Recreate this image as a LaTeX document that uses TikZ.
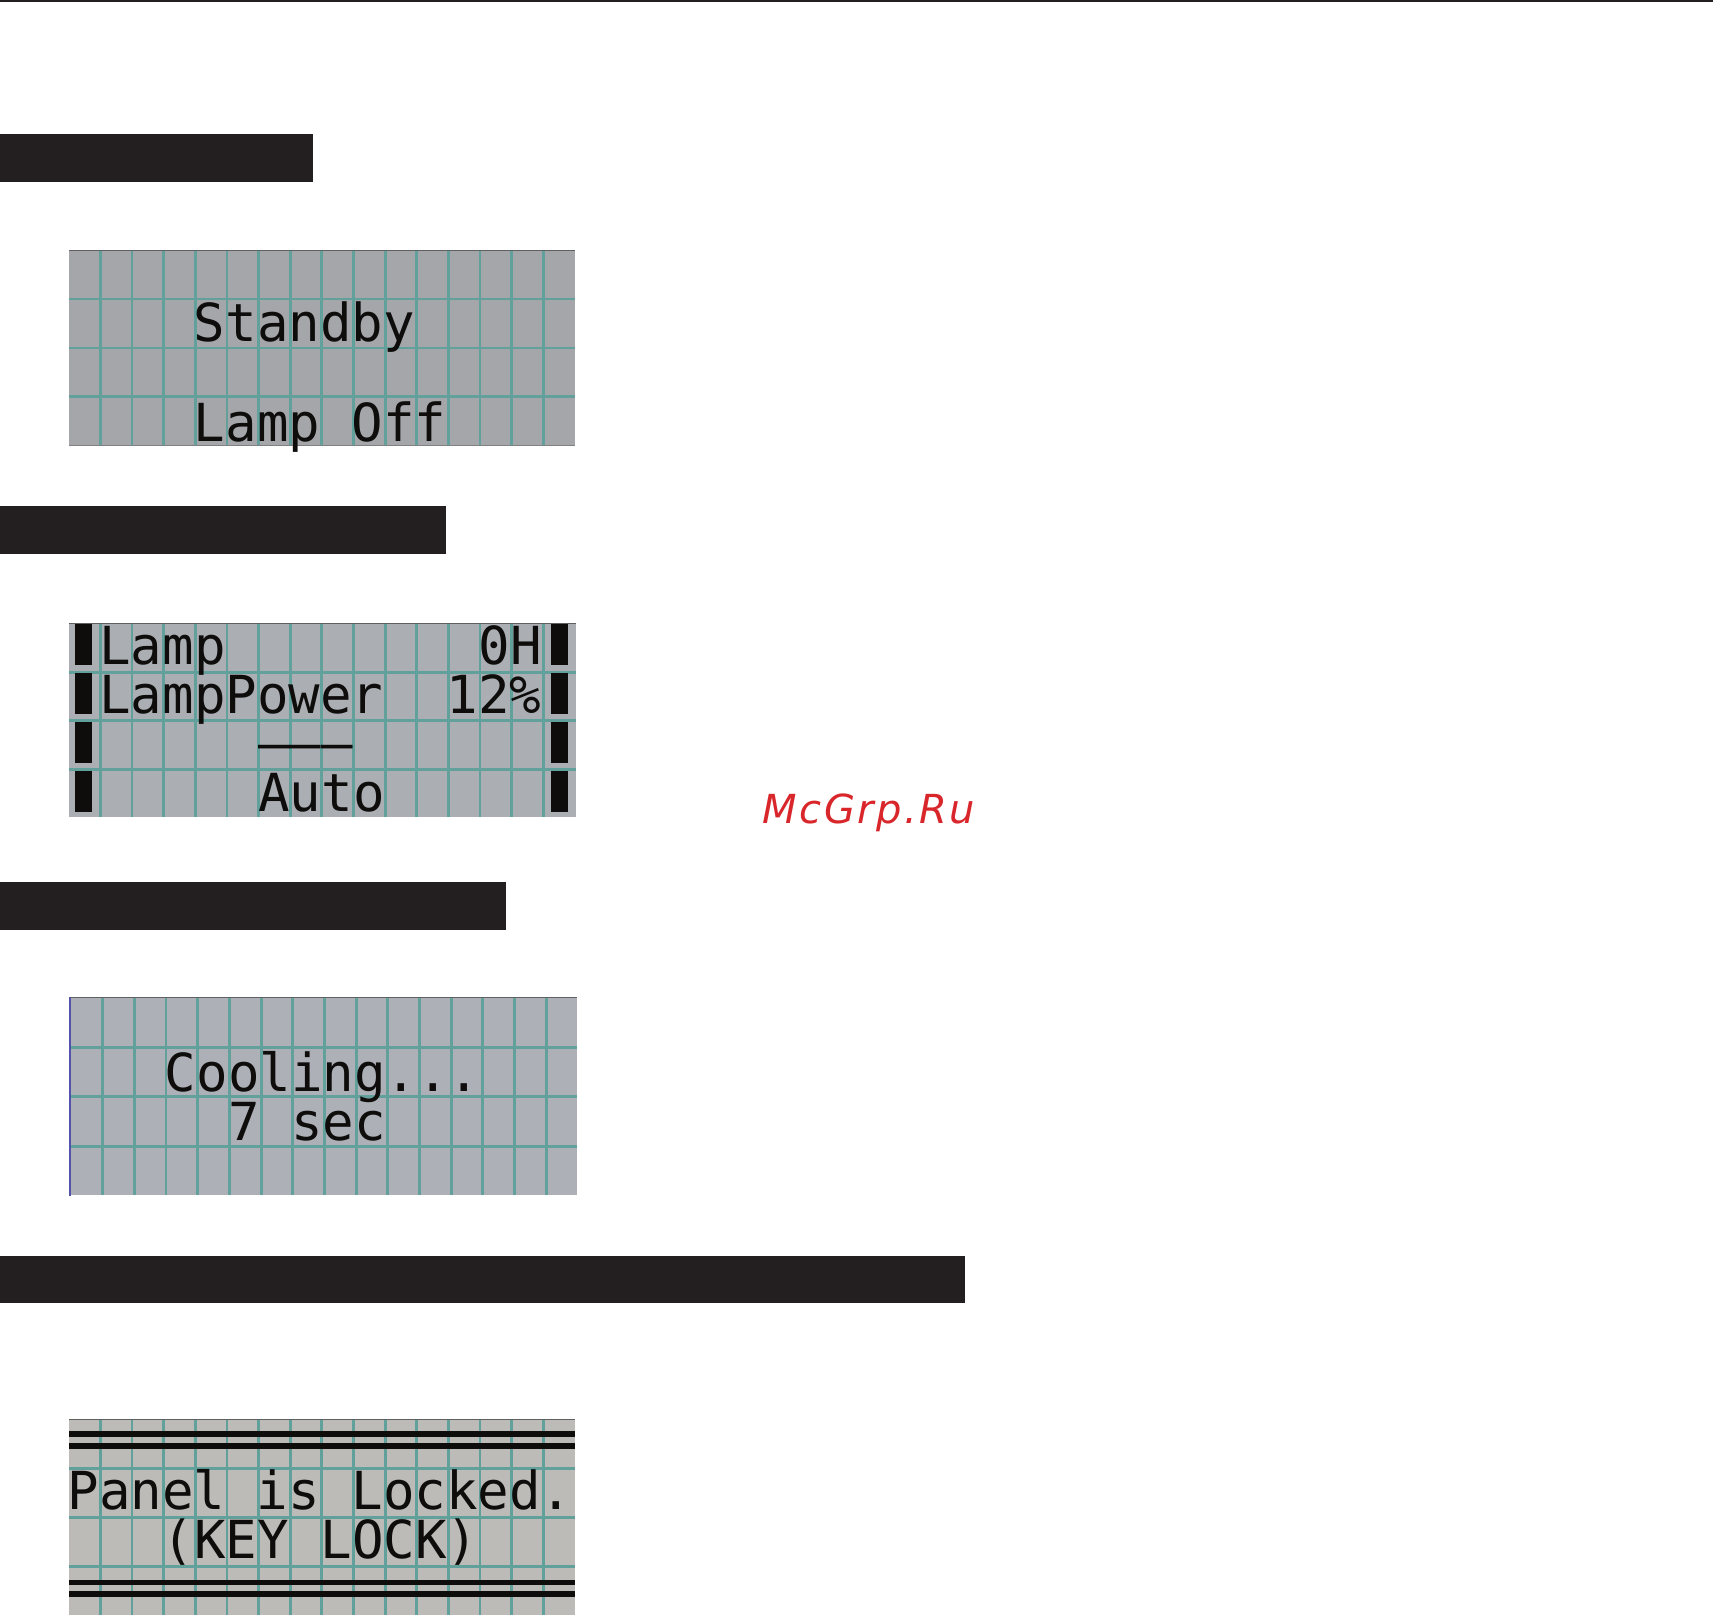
\documentclass[tikz,border=0pt]{standalone}
\usepackage{fontspec}
\newfontfamily\lcdfont{DejaVu Sans Mono}
\newfontfamily\markfont[LetterSpace=6]{DejaVu Sans}
\definecolor{barc}{HTML}{231F20}
\definecolor{gridc}{HTML}{62A09C}
\definecolor{lcdA}{HTML}{A5A6AA}
\definecolor{lcdB}{HTML}{ABAFB3}
\definecolor{lcdC}{HTML}{ADB1B7}
\definecolor{lcdD}{HTML}{BCBBB8}
\definecolor{inkc}{HTML}{0E0D0C}
\definecolor{markc}{HTML}{D9262B}
\tikzset{
  x=1.0925pt,y=-1.0925pt,
  headbar/.style={fill=barc,draw=none},
  gridline/.style={draw=gridc,line width=2.8pt},
  lcdtext/.style={anchor=base west,inner sep=0pt,outer sep=0pt,text=inkc,font=\lcdfont\fontsize{52.4pt}{60pt}\selectfont},
  inkbar/.style={fill=inkc,draw=none},
  wmark/.style={anchor=base west,inner sep=0pt,text=markc,font=\markfont\itshape\fontsize{40pt}{46pt}\selectfont}
}
% #1 left, #2 top, #3 column step, #4 row step, #5 colour, #6 right, #7 bottom
\newcommand{\lcdpanel}[7]{%
  \fill[#5] (#1,#2) rectangle (#6,#7);
  \foreach \k in {1,...,15}{\draw[gridline] ({#1+\k*#3},#2) -- ({#1+\k*#3},#7);}
  \foreach \k in {1,2,3}{\draw[gridline] (#1,{#2+\k*#4}) -- (#6,{#2+\k*#4});}
  \draw[gray!75!black,line width=0.8pt] (#1,#2) -- (#6,#2);
}
\begin{document}
\begin{tikzpicture}
\useasboundingbox (0,0) rectangle (1568,1479.2);
\fill[white] (0,0) rectangle (1568,1479.2);
\fill[barc] (0,0) rectangle (1568,1.6);
\fill[headbar] (0,123) rectangle (286.5,166.5);
\fill[headbar] (0,463) rectangle (408,507);
\fill[headbar] (0,807) rectangle (463,851);
\fill[headbar] (0,1149.5) rectangle (883,1193);
% panel 1
\lcdpanel{63}{229}{28.95}{44.75}{lcdA}{526}{408}
\draw[gray,line width=1pt] (63,408) -- (526,408);
\node[lcdtext] (t1) at (177.5,313) {Standby};
\node[lcdtext] (t2) at (177.5,404) {Lamp Off};
% panel 2
\lcdpanel{63}{571}{28.95}{44.4}{lcdB}{527}{748}
\foreach \a/\b in {571.2/608.7,616.3/653.6,660.6/698,705.7/743}{
  \fill[inkbar] (68.3,\a) rectangle (84.2,\b);
  \fill[inkbar] (504,\a) rectangle (520,\b);
}
\node[lcdtext] (t3) at (91,608) {Lamp};
\node[lcdtext] (t4) at (438,608) {0H};
\node[lcdtext] (t5) at (91,653) {LampPower};
\node[lcdtext] (t6) at (409,653) {12\%};
\node[lcdtext] (t7) at (236.5,697) {———};
\node[lcdtext] (t8) at (236.5,743) {Auto};
% panel 3
\lcdpanel{65}{913}{29}{45.5}{lcdC}{528}{1094}
\draw[blue!35!gray,line width=2.6pt] (64,913) -- (64,1095);
\node[lcdtext] (t9) at (151,999) {Cooling...};
\node[lcdtext] (t10) at (209,1044) {7 sec};
% panel 4
\lcdpanel{63}{1299}{28.95}{44.9}{lcdD}{526}{1478.5}
\foreach \a in {1312.8,1323.8,1448.4,1459.1}{
  \fill[inkbar] (63,\a-2.6) rectangle (526,\a+2.6);
}
\node[lcdtext] (t11) at (62,1382) {Panel is Locked.};
\node[lcdtext] (t12) at (149,1427) {(KEY LOCK)};
% watermark
\node[wmark] (w) at (698,754) {McGrp.Ru};
\end{tikzpicture}
\end{document}
